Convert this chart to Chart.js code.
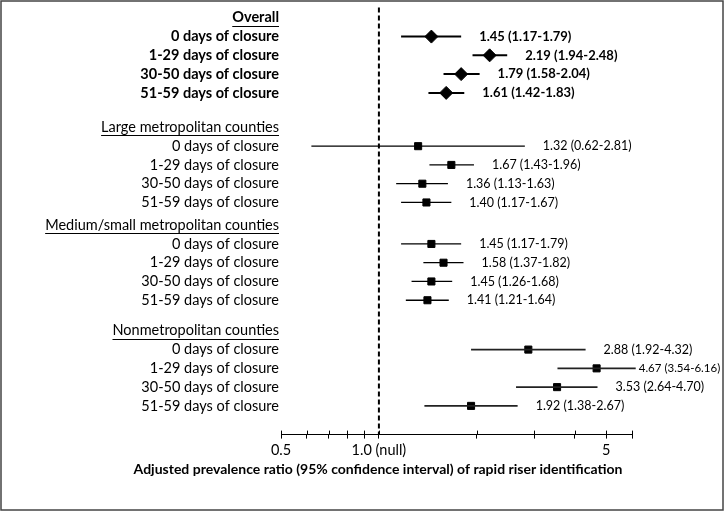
<!DOCTYPE html>
<html>
<head>
<meta charset="utf-8">
<script src="https://cdn.jsdelivr.net/npm/chart.js@4"></script>
<style>
  html, body { margin: 0; padding: 0; background: #fff; }
  #wrap { width: 727px; height: 513px; }
</style>
</head>
<body>
<div id="wrap"><canvas id="c" width="727" height="513"></canvas></div>
<script>
// ---- data ----
const groups = ["Overall", "Large metropolitan counties", "Medium/small metropolitan counties", "Nonmetropolitan counties"];
const categories = ["0 days of closure", "1-29 days of closure", "30-50 days of closure", "51-59 days of closure"];

const overallPR   = [1.45, 2.19, 1.79, 1.61];
const overallLow  = [1.17, 1.94, 1.58, 1.42];
const overallHigh = [1.79, 2.48, 2.04, 1.83];

const largePR   = [1.32, 1.67, 1.36, 1.40];
const largeLow  = [0.62, 1.43, 1.13, 1.17];
const largeHigh = [2.81, 1.96, 1.63, 1.67];

const mediumPR   = [1.45, 1.58, 1.45, 1.41];
const mediumLow  = [1.17, 1.37, 1.26, 1.21];
const mediumHigh = [1.79, 1.82, 1.68, 1.64];

const nonmetroPR   = [2.88, 4.67, 3.53, 1.92];
const nonmetroLow  = [1.92, 3.54, 2.64, 1.38];
const nonmetroHigh = [4.32, 6.16, 4.70, 2.67];

const xTickValues = [0.5, 0.6, 0.7, 0.8, 0.9, 1, 2, 3, 4, 5, 6];
const xTickLabels = ["0.5", "", "", "", "", "1.0 (null)", "", "", "", "5", ""];
const axisTitle = "Adjusted prevalence ratio (95% confidence interval) of rapid riser identification";

// ---- layout (row slots on the vertical scale) ----
const headingSlot = [0, 5.84, 11.05, 16.68];
const yMin = -0.55, yMax = 22.21;
const FONT = "Lato, 'Open Sans', sans-serif";

const series = [
  [overallPR, overallLow, overallHigh],
  [largePR, largeLow, largeHigh],
  [mediumPR, mediumLow, mediumHigh],
  [nonmetroPR, nonmetroLow, nonmetroHigh]
];

const datasets = [];
// null reference line
datasets.push({
  type: 'line', data: [{x: 1, y: yMin}, {x: 1, y: yMax}],
  borderColor: '#000', borderWidth: 2, borderDash: [5, 3], pointRadius: 0, clip: false
});
series.forEach((s, g) => {
  const [pr, lo, hi] = s;
  pr.forEach((v, i) => {
    datasets.push({
      type: 'line', data: [{x: lo[i], y: headingSlot[g] + i + 1}, {x: hi[i], y: headingSlot[g] + i + 1}],
      borderColor: g === 3 ? '#222' : '#000', borderWidth: g === 0 ? 2 : (g === 3 ? 1.6 : 1.3),
      pointRadius: 0, clip: false
    });
  });
  datasets.push({
    type: 'scatter',
    data: pr.map((v, i) => ({x: v, y: headingSlot[g] + i + 1})),
    pointStyle: g === 0 ? 'rectRot' : 'rect',
    pointRadius: g === 0 ? 6.5 : 5,
    backgroundColor: '#000', borderColor: '#000', borderWidth: 1, clip: false
  });
});

const textPlugin = {
  id: 'texts',
  afterDraw(chart) {
    const ctx = chart.ctx, xs = chart.scales.x, ys = chart.scales.y;
    ctx.save();
    // frame
    ctx.strokeStyle = '#444'; ctx.lineWidth = 1.5;
    ctx.strokeRect(1, 1, 722, 509);
    // crossing tick marks (upper half)
    ctx.strokeStyle = '#000'; ctx.lineWidth = 1;
    const yb = chart.chartArea.bottom;
    xTickValues.forEach(v => {
      const px = Math.round(xs.getPixelForValue(v)) + 0.5;
      ctx.beginPath(); ctx.moveTo(px, yb - 4); ctx.lineTo(px, yb); ctx.stroke();
    });
    // labels
    ctx.fillStyle = '#000'; ctx.textBaseline = 'middle';
    const labelRight = 279;
    groups.forEach((gName, g) => {
      const bold = g === 0 ? 'bold ' : '';
      ctx.font = bold + '14.5px ' + FONT;
      ctx.textAlign = 'right';
      const hy = ys.getPixelForValue(headingSlot[g]);
      ctx.fillText(gName, labelRight, hy);
      const w = ctx.measureText(gName).width;
      ctx.lineWidth = 1;
      ctx.beginPath(); ctx.moveTo(labelRight - w, Math.round(hy + 8) + 0.5); ctx.lineTo(labelRight, Math.round(hy + 8) + 0.5); ctx.stroke();
      const [pr, lo, hi] = series[g];
      categories.forEach((c, i) => {
        const y = ys.getPixelForValue(headingSlot[g] + i + 1);
        ctx.textAlign = 'right';
        ctx.font = bold + '14.5px ' + FONT;
        ctx.fillText(c, labelRight, y);
        const txt = pr[i].toFixed(2) + ' (' + lo[i].toFixed(2) + '-' + hi[i].toFixed(2) + ')';
        let size = g === 0 ? 13 : 12.5;
        ctx.font = bold + size + 'px ' + FONT;
        const lineEnd = xs.getPixelForValue(hi[i]);
        let tx = lineEnd + 18;
        let tw = ctx.measureText(txt).width;
        if (tx + tw > 722) {
          tx = lineEnd + 3;
          while (tx + tw > 722 && size > 11.5) {
            size -= 0.25;
            ctx.font = bold + size + 'px ' + FONT;
            tw = ctx.measureText(txt).width;
          }
        }
        ctx.textAlign = 'left';
        ctx.fillText(txt, tx, y);
      });
    });
    // axis title
    ctx.font = 'bold 14px ' + FONT;
    ctx.textAlign = 'center';
    ctx.fillText(axisTitle, 378, 469);
    ctx.restore();
  }
};

new Chart(document.getElementById('c'), {
  data: { datasets },
  options: {
    responsive: false,
    animation: false,
    devicePixelRatio: 1,
    layout: { padding: { left: 281, right: 95, top: 6, bottom: 51 } },
    plugins: { legend: { display: false }, tooltip: { enabled: false } },
    scales: {
      x: {
        type: 'logarithmic', min: 0.5, max: 6,
        afterBuildTicks: (axis) => { axis.ticks = xTickValues.map(v => ({value: v})); },
        ticks: {
          autoSkip: false, maxRotation: 0, padding: 3,
          color: '#000', font: { family: FONT, size: 14.5 },
          callback: (v) => { const k = xTickValues.indexOf(v); return k >= 0 ? xTickLabels[k] : ''; }
        },
        grid: { display: true, drawOnChartArea: false, drawTicks: true, tickLength: 4, color: '#000', lineWidth: 1 },
        border: { display: true, color: '#000', width: 1 }
      },
      y: { type: 'linear', reverse: true, min: yMin, max: yMax, display: false }
    }
  },
  plugins: [textPlugin]
});
</script>
</body>
</html>
